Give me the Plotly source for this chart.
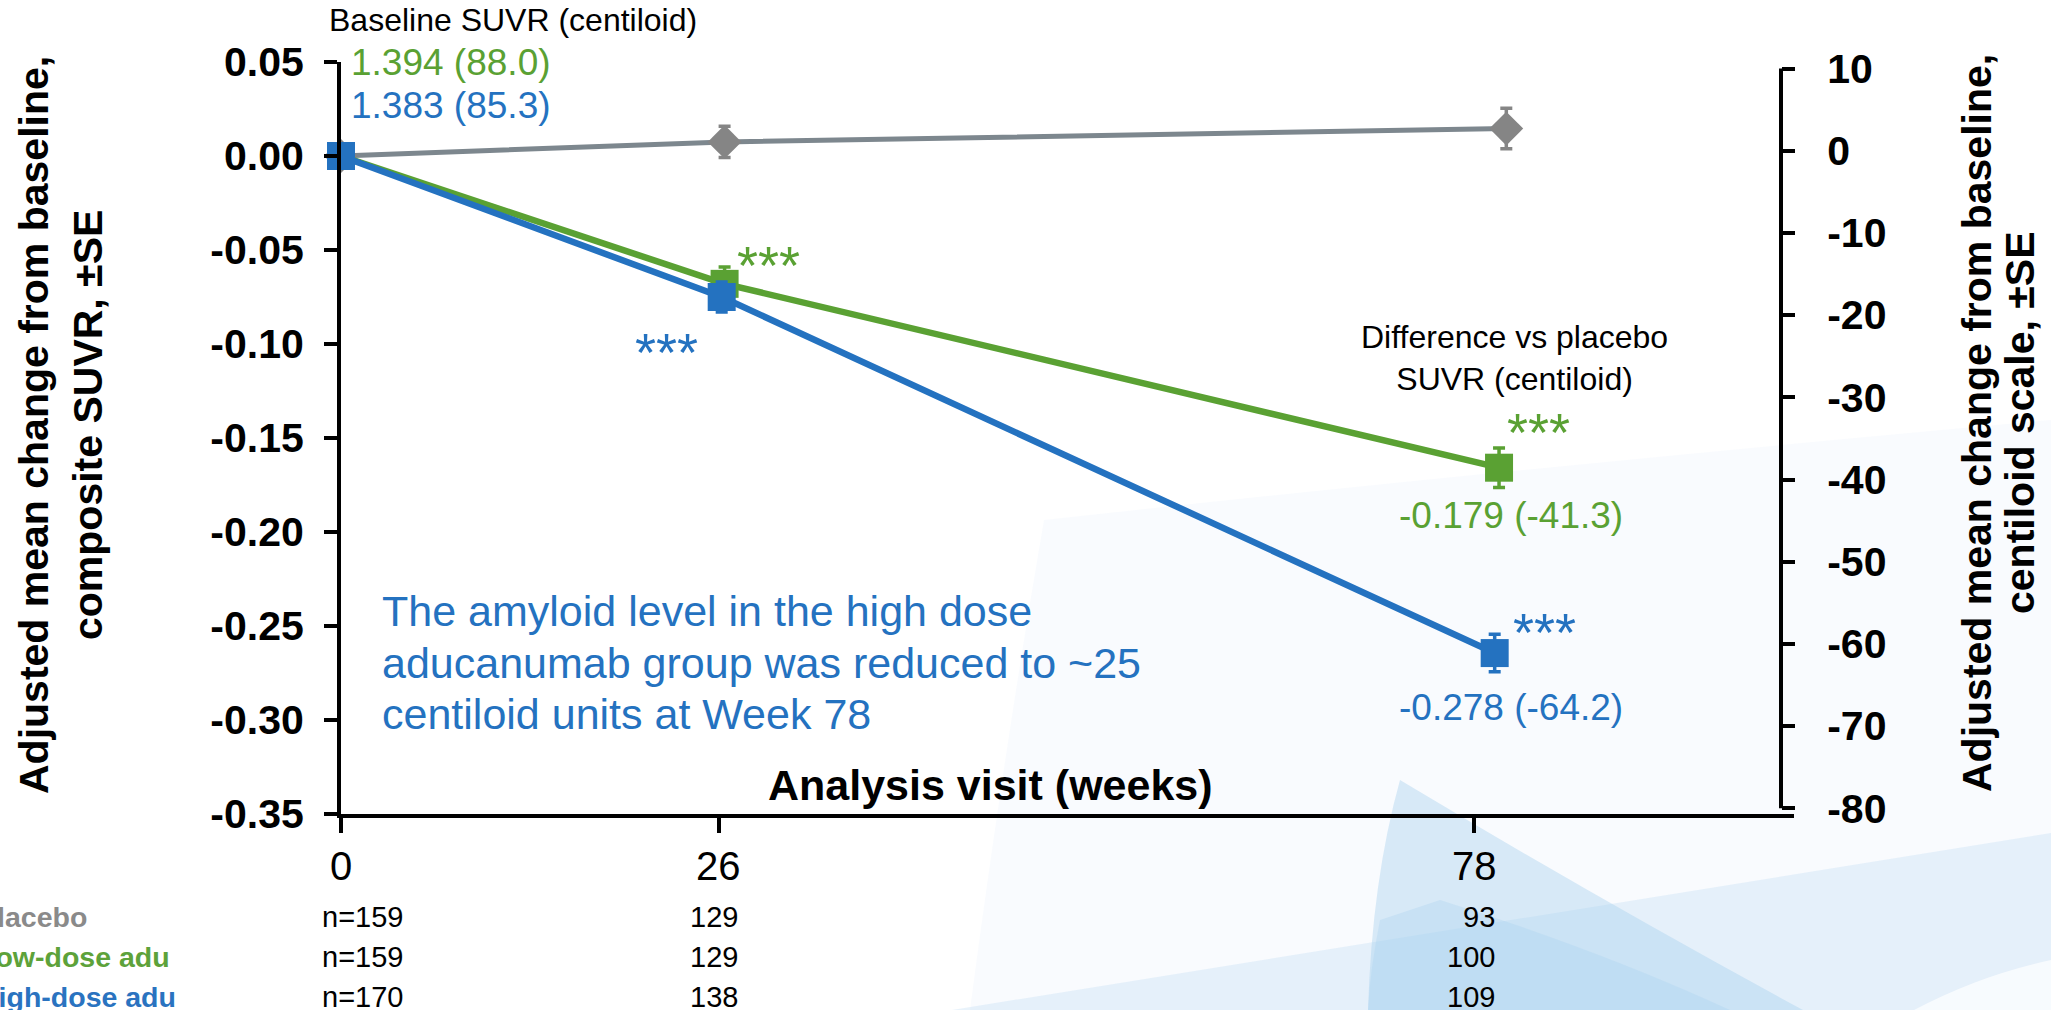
import plotly.graph_objects as go

# ---------------- data ----------------
weeks = [0, 26, 78]

placebo_x = [0, 26.4, 80.2]
placebo_y = [0.0, 0.0075, 0.0146]
placebo_se = [0.0, 0.0083, 0.0108]

low_x = [0, 26.4, 79.7]
low_y = [0.0, -0.068, -0.1658]
low_se = [0.0, 0.0089, 0.0105]

high_x = [0, 26.2, 79.4]
high_y = [0.0, -0.075, -0.2644]
high_se = [0.0, 0.008, 0.010]

left_tickvals = [0.05, 0.0, -0.05, -0.10, -0.15, -0.20, -0.25, -0.30, -0.35]
left_ticktext = ["0.05", "0.00", "-0.05", "-0.10", "-0.15", "-0.20", "-0.25", "-0.30", "-0.35"]
right_tickvals = [10, 0, -10, -20, -30, -40, -50, -60, -70, -80]
right_ticktext = ["10", "0", "-10", "-20", "-30", "-40", "-50", "-60", "-70", "-80"]

row_labels = ["Placebo", "Low-dose adu", "High-dose adu"]
n_placebo = [159, 129, 93]
n_low = [159, 129, 100]
n_high = [170, 138, 109]

baseline_low = "1.394 (88.0)"
baseline_high = "1.383 (85.3)"
diff_low = "-0.179 (-41.3)"
diff_high = "-0.278 (-64.2)"

# ---------------- style ----------------
W, H = 2051, 1010
ML, MR, MT, MB = 341, 257, 62, 196
PW = W - ML - MR
PH = H - MT - MB

GREEN = "#5aa133"
BLUE = "#2472c0"
GRAY_M = "#858585"
GRAY_L = "#7d878e"
FONT = "Liberation Sans, Arial, sans-serif"


def px(xp):
    return (xp - ML) / PW


def py(yp):
    return (H - MB - yp) / PH


def path(cmds):
    out = []
    for c in cmds:
        if isinstance(c, str):
            out.append(c)
        else:
            out.append(f"{px(c[0]):.5f},{py(c[1]):.5f}")
    return " ".join(out)


fig = go.Figure()


def series(x, y, se, color, linecolor, symbol, size, lw):
    return go.Scatter(
        x=x, y=y, mode="lines+markers",
        line=dict(color=linecolor, width=lw),
        marker=dict(symbol=symbol, size=size, color=color, line=dict(width=0)),
        error_y=dict(type="data", array=se, visible=True, color=color, thickness=3.5, width=6),
        cliponaxis=False, showlegend=False, hoverinfo="skip",
    )


fig.add_trace(series(placebo_x, placebo_y, placebo_se, GRAY_M, GRAY_L, "diamond", 26, 5))
fig.add_trace(series(low_x, low_y, low_se, GREEN, GREEN, "square", 28, 6.5))
fig.add_trace(series(high_x, high_y, high_se, BLUE, BLUE, "square", 28, 6.5))
# invisible trace so the right axis is drawn
fig.add_trace(go.Scatter(x=[None], y=[None], yaxis="y2", showlegend=False, hoverinfo="skip"))

ann = []


def text(x, y, s, size, color="black", bold=False, xanchor="center", yanchor="middle", angle=0, align="center"):
    ann.append(dict(
        x=px(x), y=py(y), xref="paper", yref="paper", text=s, showarrow=False,
        xanchor=xanchor, yanchor=yanchor, textangle=angle, align=align,
        font=dict(family=FONT, size=size, color=color, weight="bold" if bold else "normal"),
    ))


# axis titles (one annotation per line)
text(34, 425, "Adjusted mean change from baseline,", 41, bold=True, angle=-90)
text(88, 425, "composite SUVR, ±SE", 41, bold=True, angle=-90)
text(1977, 423, "Adjusted mean change from baseline,", 41, bold=True, angle=-90)
text(2020, 423, "centiloid scale, ±SE", 41, bold=True, angle=-90)
text(990, 785, "Analysis visit (weeks)", 43, bold=True)

# x tick labels (placed through the x axis)
for wk in weeks:
    ann.append(dict(x=wk, y=py(866), xref="x", yref="paper", text=str(wk), showarrow=False,
                    xanchor="center", yanchor="middle",
                    font=dict(family=FONT, size=40, color="black")))

# baseline labels
text(327, 20, "Baseline SUVR (centiloid)", 32, xanchor="left")
text(349, 62, baseline_low, 37, color=GREEN, xanchor="left")
text(349, 106, baseline_high, 37, color=BLUE, xanchor="left")

# significance stars
stars = "***"
text(768, 264.5, stars, 54, color=GREEN)
text(666, 351.5, stars, 54, color=BLUE)
text(1538, 431.5, stars, 54, color=GREEN)
text(1544, 631.5, stars, 54, color=BLUE)

# difference vs placebo
text(1514, 358, "Difference vs placebo<br>SUVR (centiloid)", 32)
text(1511, 515, diff_low, 37, color=GREEN)
text(1511, 707, diff_high, 37, color=BLUE)

# callout
callout = ["The amyloid level in the high dose",
           "aducanumab group was reduced to ~25",
           "centiloid units at Week 78"]
for i, line in enumerate(callout):
    text(380, 611 + i * 51.5, line, 43, color=BLUE, xanchor="left")

# n at risk table
row_y = [917, 957, 997]
row_colors = ["#8a8a8a", "#5da23a", "#2a73c0"]
for lab, yy, col in zip(row_labels, row_y, row_colors):
    text(-24, yy, lab, 28.5, color=col, bold=True, xanchor="left")

n_shift = [64, 21, 23]
for ns, yy in zip([n_placebo, n_low, n_high], row_y):
    for j, (wk, n) in enumerate(zip(weeks, ns)):
        s = f"n={n}" if j == 0 else str(n)
        ann.append(dict(
            x=wk, y=py(yy), xref="x", yref="paper", text=s, showarrow=False,
            xanchor="right", yanchor="middle", xshift=n_shift[j],
            font=dict(family=FONT, size=29, color="black"),
        ))


# decorative background
def bg(cmds, color):
    return dict(type="path", xref="paper", yref="paper", layer="below", line=dict(width=0),
                fillcolor=color, path=path(cmds))


shapes = [
    bg(["M", (970, 1010), "C", (995, 820), (1020, 660), (1044, 520),
        "Q", (1500, 470), (2051, 420), "L", (2051, 1010), "Z"], "rgba(226,239,249,0.22)"),
    bg(["M", (952, 1010), "L", (2051, 833), "L", (2051, 1010), "Z"], "rgba(200,226,244,0.4)"),
    bg(["M", (1400, 780), "Q", (1372, 880), (1368, 1010), "L", (1803, 1010),
        "Q", (1600, 900), (1400, 780), "Z"], "rgba(165,208,237,0.4)"),
    bg(["M", (1380, 920), "Q", (1370, 970), (1368, 1010), "L", (1730, 1010),
        "Q", (1600, 950), (1440, 900), "Z"], "rgba(165,208,237,0.3)"),
    bg(["M", (1914, 1010), "Q", (1980, 975), (2051, 960), "L", (2051, 1010), "Z"],
       "rgba(255,255,255,0.7)"),
    # right axis line, spanning its first to last tick
    dict(type="line", xref="paper", yref="y2", x0=px(1781), x1=px(1781),
         y0=right_tickvals[-1], y1=right_tickvals[0], line=dict(color="black", width=4)),
]

axis_common = dict(linecolor="black", linewidth=4, ticks="outside",
                   tickcolor="black", tickwidth=4, showgrid=False, zeroline=False,
                   automargin=False)

fig.update_layout(
    width=W, height=H,
    margin=dict(l=ML, r=MR, t=MT, b=MB, pad=0, autoexpand=False),
    paper_bgcolor="white", plot_bgcolor="rgba(0,0,0,0)",
    showlegend=False,
    font=dict(family=FONT, color="black"),
    xaxis=dict(range=[0, 100], tickvals=weeks, showticklabels=False, ticklen=15,
               showline=True, **axis_common),
    yaxis=dict(range=[-0.35, 0.05], tickvals=left_tickvals, ticktext=left_ticktext,
               ticklen=13, ticklabelstandoff=12, showline=True,
               tickfont=dict(family=FONT, size=41, color="black", weight="bold"), **axis_common),
    yaxis2=dict(overlaying="y", side="right", anchor="free", position=px(1781),
                range=[-80.7, 10.8], tickvals=right_tickvals, ticktext=right_ticktext,
                ticklen=13, ticklabelstandoff=24, showline=False,
                tickfont=dict(family=FONT, size=41, color="black", weight="bold"), **axis_common),
    annotations=ann,
    shapes=shapes,
)

fig.write_html("out.html", config={"displayModeBar": False},
               post_script="document.body.style.margin='0px';")
